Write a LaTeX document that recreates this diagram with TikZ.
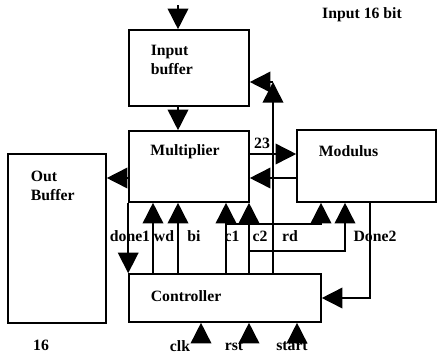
\documentclass[tikz,border=0pt]{standalone}
\usepackage{fontspec}
\setmainfont{Liberation Serif}
\usetikzlibrary{arrows.meta}
\begin{document}
\begin{tikzpicture}[x=0.75pt,y=-0.75pt,line width=1.2pt,
    blk/.style={draw,rectangle,inner sep=0pt},
    lbl/.style={font=\bfseries\fontsize{11.8}{14.5}\selectfont,inner sep=0pt},
    arr/.style={-{Triangle[length=15.5pt,width=15.5pt]}}]

      \useasboundingbox (0,0) rectangle (438,354);

      \begin{scope}[every node/.style={blk}]
        \node[minimum width=90pt,minimum height=57pt]     (inbuf)  at (189,68)    {};
        \node[minimum width=90pt,minimum height=53.25pt]  (mult)   at (189,166.5) {};
        \node[minimum width=104.25pt,minimum height=54pt] (modu)   at (366.5,166) {};
        \node[minimum width=73.5pt,minimum height=126.75pt] (outbuf) at (57,238.5) {};
        \node[minimum width=144pt,minimum height=36pt]    (ctrl)   at (225,298)   {};
      \end{scope}

      % columns and rows of the wires
      \coordinate (xin)    at (178,5);
      \coordinate (xwd)    at (153,0);
      \coordinate (xbi)    at (178,0);
      \coordinate (xcone)  at (226,0);
      \coordinate (xctwo)  at (249,0);
      \coordinate (xfb)    at (273,0);
      \coordinate (xrd)    at (321,0);
      \coordinate (xdtwo)  at (345,0);
      \coordinate (xback)  at (370,0);
      \coordinate (xclk)   at (201,334);
      \coordinate (xrst)   at (249,334);
      \coordinate (xstart) at (297,334);
      \coordinate (yfb)    at (0,82);
      \coordinate (ysum)   at (0,154);
      \coordinate (yret)   at (0,178);
      \coordinate (yrd)    at (0,224);
      \coordinate (ydtwo)  at (0,251);

      \begin{scope}[every node/.style={lbl}]
        \node[anchor=north west,align=left] (tinbuf) at (150,44) {Input\\buffer};
        \node (tmult)  at (185,152) {Multiplier};
        \node[anchor=west] (tmodu) at (318,151) {Modulus};
        \node[anchor=north west,align=left] (toutbuf) at (30,170) {Out\\Buffer};
        \node[anchor=west] (tctrl) at (150,296) {Controller};
        \node (tin)    at (362,15)  {Input 16 bit};
        \node (tsum)   at (262,143) {23};
        \node (tout)   at (41,345)  {16};
        \node (tdone)  at (130,236) {done1};
        \node (twd)    at (164,236) {wd};
        \node (tbi)    at (194,236) {bi};
        \node (tcone)  at (232,236) {c1};
        \node (tctwo)  at (260,236) {c2};
        \node (trd)    at (290,236) {rd};
        \node (tdtwo)  at (375,236) {Done2};
        \node (tclk)   at (180,346) {clk};
        \node (trst)   at (234,346) {rst};
        \node (tstart) at (292,346) {start};
      \end{scope}

      \draw[arr] (xin) -- (xin |- inbuf.north);
      \draw[arr] (xin |- inbuf.south) -- (xin |- mult.north);
      \draw[arr] (mult.east |- ysum) -- (modu.west |- ysum);
      \draw[arr] (modu.west |- yret) -- (mult.east |- yret);
      \draw[arr] (mult.west |- yret) -- (outbuf.east |- yret);
      \draw[arr] (mult.south west) -- (ctrl.north west);
      \draw[arr] (ctrl.north -| xwd) -- (mult.south -| xwd);
      \draw[arr] (ctrl.north -| xbi) -- (mult.south -| xbi);
      \draw[arr] (ctrl.north -| xcone) -- (mult.south -| xcone);
      \draw[arr] (ctrl.north -| xctwo) -- (mult.south -| xctwo);
      \draw[arr] (ctrl.north -| xfb) -- (xfb |- yfb);
      \draw[arr] (xfb |- yfb) -- (inbuf.east |- yfb);
      \draw[arr] (xcone |- yrd) -- (xrd |- yrd) -- (modu.south -| xrd);
      \draw[arr] (xctwo |- ydtwo) -- (xdtwo |- ydtwo) -- (modu.south -| xdtwo);
      \draw[arr] (modu.south -| xback) -- (xback |- ctrl.east) -- (ctrl.east);
      \draw[arr] (xclk) -- (ctrl.south -| xclk);
      \draw[arr] (xrst) -- (ctrl.south -| xrst);
      \draw[arr] (xstart) -- (ctrl.south -| xstart);

    \end{tikzpicture}
\end{document}
